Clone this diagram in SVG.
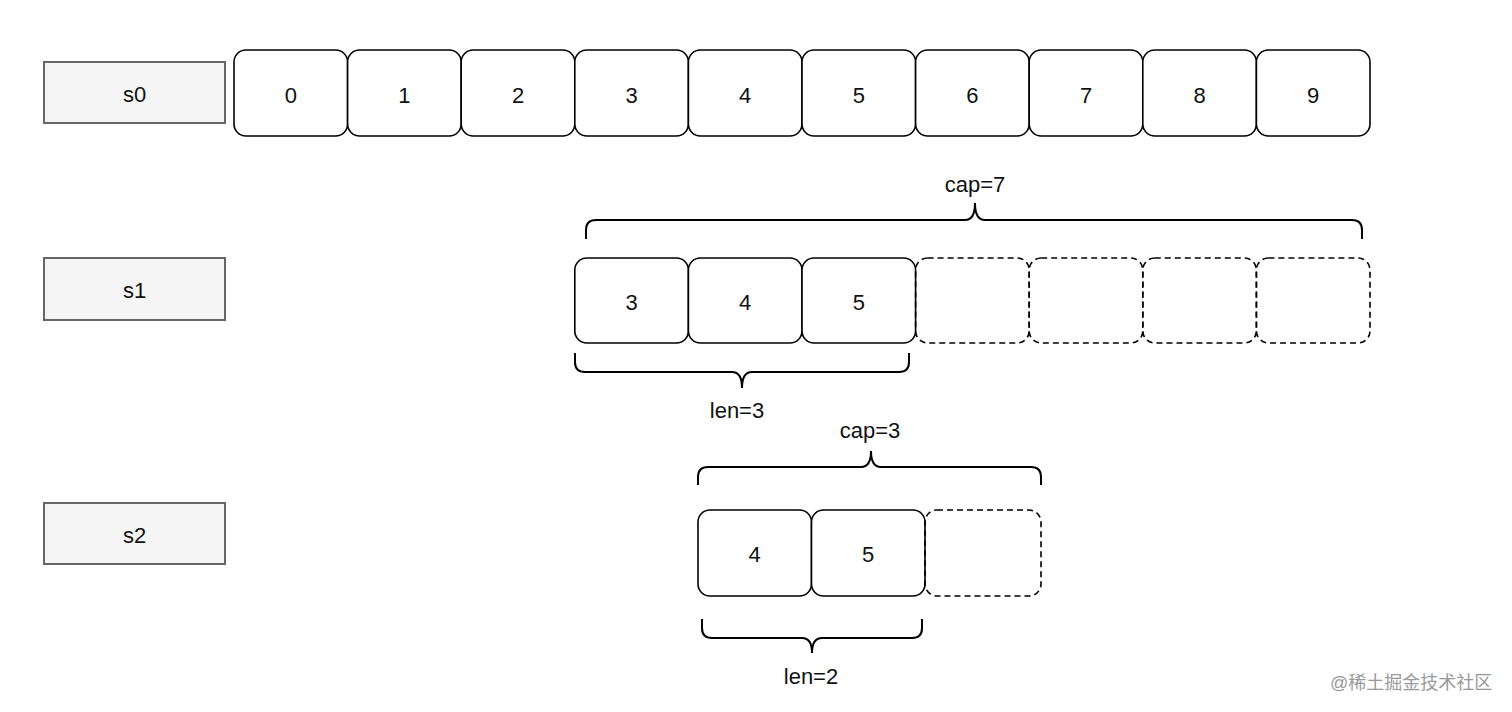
<svg xmlns="http://www.w3.org/2000/svg" width="1512" height="712" viewBox="0 0 1512 712">
<style>
.lbl{fill:#f5f5f5;stroke:#666;stroke-width:2}
.cell{fill:#fff;stroke:#000;stroke-width:1.6}
.dash{fill:none;stroke:#000;stroke-width:1.6;stroke-dasharray:6 4}
.brace{fill:none;stroke:#000;stroke-width:2}
text{font-family:"Liberation Sans",Arial,sans-serif;font-size:22px;fill:#111;text-anchor:middle}
.wm{font-family:"Liberation Sans","Noto Sans CJK SC",sans-serif;font-size:18px;fill:#999;text-anchor:start}
</style>
<rect width="1512" height="712" fill="#fff"/>
<g id="s0"><rect class="lbl" x="44" y="62" width="181" height="61"/><text x="134.5" y="102">s0</text></g>
<g id="s1"><rect class="lbl" x="44" y="258" width="181" height="62"/><text x="134.5" y="298">s1</text></g>
<g id="s2"><rect class="lbl" x="44" y="503" width="181" height="61"/><text x="134.5" y="543">s2</text></g>
<g id="row0">
<g id="c0"><rect class="cell" x="234" y="50" width="113.6" height="86" rx="12"/><text x="290.8" y="103">0</text></g>
<g id="c1"><rect class="cell" x="347.6" y="50" width="113.6" height="86" rx="12"/><text x="404.4" y="103">1</text></g>
<g id="c2"><rect class="cell" x="461.2" y="50" width="113.6" height="86" rx="12"/><text x="518" y="103">2</text></g>
<g id="c3"><rect class="cell" x="574.8" y="50" width="113.6" height="86" rx="12"/><text x="631.6" y="103">3</text></g>
<g id="c4"><rect class="cell" x="688.4" y="50" width="113.6" height="86" rx="12"/><text x="745.2" y="103">4</text></g>
<g id="c5"><rect class="cell" x="802" y="50" width="113.6" height="86" rx="12"/><text x="858.8" y="103">5</text></g>
<g id="c6"><rect class="cell" x="915.6" y="50" width="113.6" height="86" rx="12"/><text x="972.4" y="103">6</text></g>
<g id="c7"><rect class="cell" x="1029.2" y="50" width="113.6" height="86" rx="12"/><text x="1086" y="103">7</text></g>
<g id="c8"><rect class="cell" x="1142.8" y="50" width="113.6" height="86" rx="12"/><text x="1199.6" y="103">8</text></g>
<g id="c9"><rect class="cell" x="1256.4" y="50" width="113.6" height="86" rx="12"/><text x="1313.2" y="103">9</text></g>
</g>
<g id="row1">
<g id="s1c0"><rect class="cell" x="574.8" y="258" width="113.6" height="85" rx="12"/><text x="631.6" y="310">3</text></g>
<g id="s1c1"><rect class="cell" x="688.4" y="258" width="113.6" height="85" rx="12"/><text x="745.2" y="310">4</text></g>
<g id="s1c2"><rect class="cell" x="802" y="258" width="113.6" height="85" rx="12"/><text x="858.8" y="310">5</text></g>
<g id="s1d3"><rect class="dash" x="915.6" y="258" width="113.6" height="85" rx="12"/></g>
<g id="s1d4"><rect class="dash" x="1029.2" y="258" width="113.6" height="85" rx="12"/></g>
<g id="s1d5"><rect class="dash" x="1142.8" y="258" width="113.6" height="85" rx="12"/></g>
<g id="s1d6"><rect class="dash" x="1256.4" y="258" width="113.6" height="85" rx="12"/></g>
</g>
<g id="row2">
<g id="s2c0"><rect class="cell" x="698" y="510" width="113.5" height="86" rx="12"/><text x="754.7" y="562">4</text></g>
<g id="s2c1"><rect class="cell" x="811.5" y="510" width="113.5" height="86" rx="12"/><text x="868.2" y="562">5</text></g>
<g id="s2d2"><rect class="dash" x="925" y="510" width="116" height="86" rx="12"/></g>
</g>
<g id="braces">
<g id="cap7"><path class="brace" d="M586,239 L586,230 Q586,220 596,220 L965,220 Q975,220 975,203 Q975,220 985,220 L1352,220 Q1362,220 1362,230 L1362,239"/><text x="975" y="192">cap=7</text></g>
<g id="len3"><path class="brace" d="M575,353 L575,362 Q575,372 585,372 L732,372 Q742,372 742,388 Q742,372 752,372 L899,372 Q909,372 909,362 L909,353"/><text x="737" y="418">len=3</text></g>
<g id="cap3"><path class="brace" d="M698,485 L698,477 Q698,467 708,467 L861,467 Q871,467 871,451 Q871,467 881,467 L1031,467 Q1041,467 1041,477 L1041,485"/><text x="870" y="438">cap=3</text></g>
<g id="len2"><path class="brace" d="M702,619 L702,628 Q702,638 712,638 L802,638 Q812,638 812,653 Q812,638 822,638 L912,638 Q922,638 922,628 L922,619"/><text x="811" y="684">len=2</text></g>
</g>
<text class="wm" x="1330" y="689">@稀土掘金技术社区</text>
</svg>
